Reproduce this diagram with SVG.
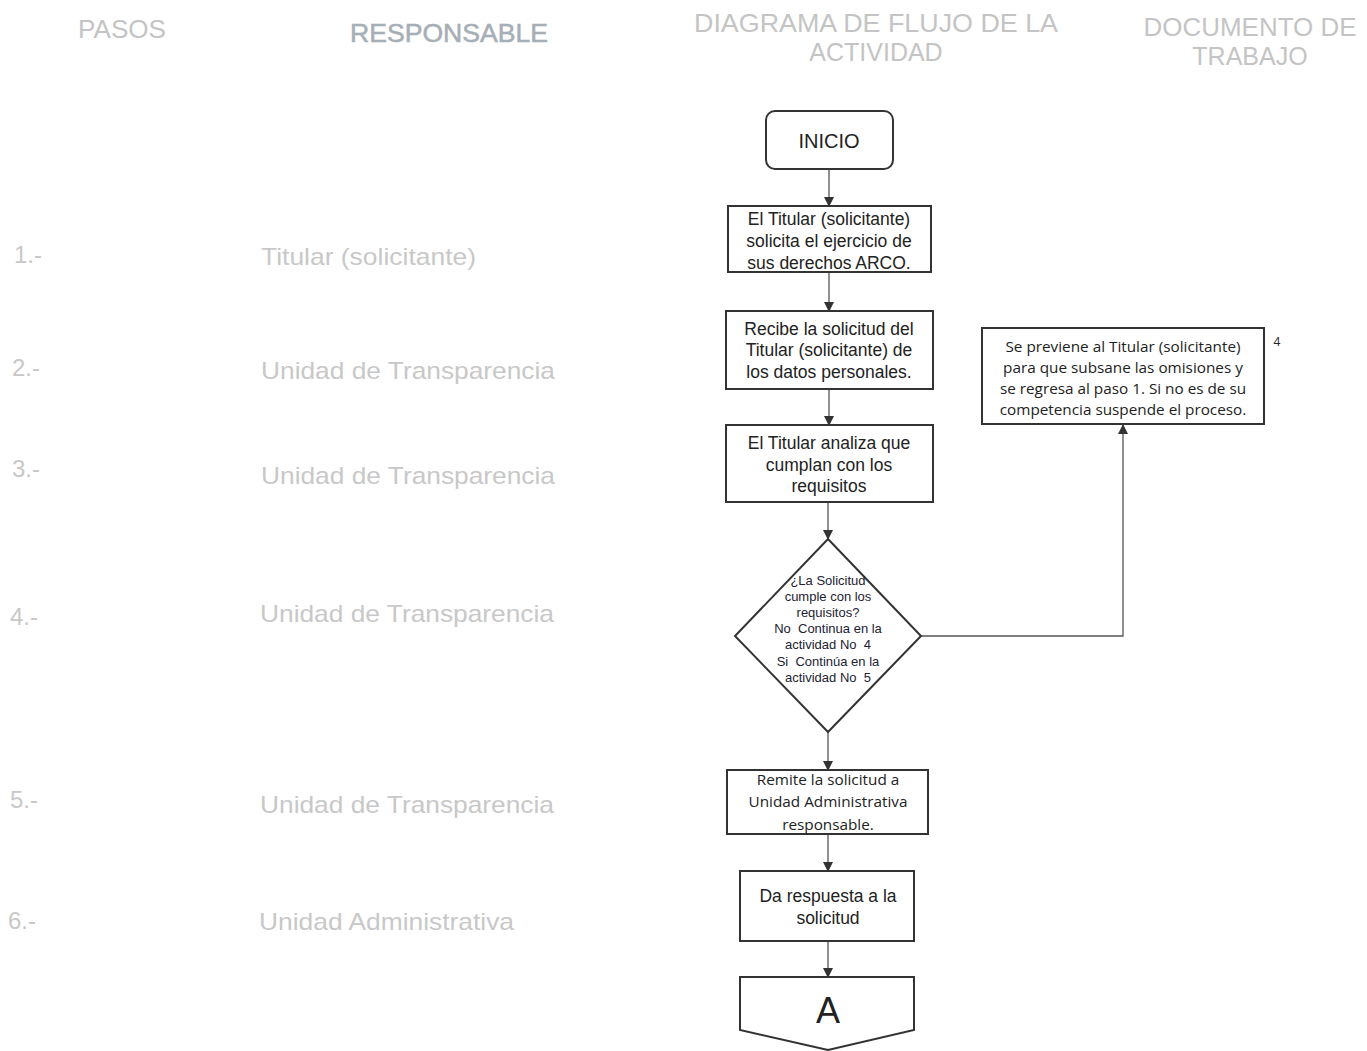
<svg xmlns="http://www.w3.org/2000/svg" width="1367" height="1051" viewBox="0 0 1367 1051">
<defs>
<marker id="arr" markerWidth="10" markerHeight="10" refX="9" refY="5" orient="auto" markerUnits="userSpaceOnUse"><path d="M0,0 L10,5 L0,10 z" fill="#333"/></marker>
<style>
.hd{font-family:"Liberation Sans",Arial,sans-serif;font-size:25px;fill:#c4c4c4;text-anchor:middle}
.lt{font-family:"Liberation Sans",Arial,sans-serif;font-size:24px;fill:#c8c8c8}
.box{fill:#fff;stroke:#333;stroke-width:2}
.tx{font-family:"Liberation Sans",Arial,sans-serif;font-size:17.5px;fill:#222;text-anchor:middle}
.cb{font-family:"Open Sans","Liberation Sans",sans-serif;font-size:15.3px;fill:#222;text-anchor:middle}
.dm{font-family:"Liberation Sans",Arial,sans-serif;font-size:13px;fill:#223;text-anchor:middle;white-space:pre}
.ln{fill:none;stroke:#555;stroke-width:1.3}
</style>
</defs>
<rect width="1367" height="1051" fill="#fff"/>
<g id="headers">
<text class="hd" x="122" y="38" textLength="88" lengthAdjust="spacingAndGlyphs">PASOS</text>
<text class="hd" x="449" y="42" style="fill:#a6aeb6;stroke:#a6aeb6;stroke-width:0.5" textLength="198" lengthAdjust="spacingAndGlyphs">RESPONSABLE</text>
<text class="hd" x="876" y="32" textLength="364" lengthAdjust="spacingAndGlyphs">DIAGRAMA DE FLUJO DE LA</text>
<text class="hd" x="876" y="61">ACTIVIDAD</text>
<text class="hd" x="1250" y="36" textLength="213" lengthAdjust="spacingAndGlyphs">DOCUMENTO DE</text>
<text class="hd" x="1250" y="65">TRABAJO</text>
</g>
<g id="steps">
<text class="lt" x="14" y="263">1.-</text>
<text class="lt" x="261" y="265" textLength="215" lengthAdjust="spacingAndGlyphs">Titular (solicitante)</text>
<text class="lt" x="12" y="376">2.-</text>
<text class="lt" x="261" y="379" textLength="294" lengthAdjust="spacingAndGlyphs">Unidad de Transparencia</text>
<text class="lt" x="12" y="477">3.-</text>
<text class="lt" x="261" y="484" textLength="294" lengthAdjust="spacingAndGlyphs">Unidad de Transparencia</text>
<text class="lt" x="10" y="625">4.-</text>
<text class="lt" x="260" y="622" textLength="294" lengthAdjust="spacingAndGlyphs">Unidad de Transparencia</text>
<text class="lt" x="10" y="808">5.-</text>
<text class="lt" x="260" y="813" textLength="294" lengthAdjust="spacingAndGlyphs">Unidad de Transparencia</text>
<text class="lt" x="8" y="929">6.-</text>
<text class="lt" x="259" y="930" textLength="255" lengthAdjust="spacingAndGlyphs">Unidad Administrativa</text>
</g>
<g id="connectors">
<line class="ln" x1="829" y1="169" x2="829" y2="206" marker-end="url(#arr)"/>
<line class="ln" x1="829" y1="272" x2="829" y2="311" marker-end="url(#arr)"/>
<line class="ln" x1="829" y1="389" x2="829" y2="425" marker-end="url(#arr)"/>
<line class="ln" x1="828" y1="502" x2="828" y2="539" marker-end="url(#arr)"/>
<polyline class="ln" points="921,636 1123,636 1123,425" marker-end="url(#arr)"/>
<line class="ln" x1="828" y1="732" x2="828" y2="770" marker-end="url(#arr)"/>
<line class="ln" x1="828" y1="834" x2="828" y2="871" marker-end="url(#arr)"/>
<line class="ln" x1="828" y1="941" x2="828" y2="977" marker-end="url(#arr)"/>
</g>
<g id="inicio">
<rect class="box" x="766" y="111" width="127" height="58" rx="9"/>
<text class="tx" x="829" y="148" style="font-size:20px">INICIO</text>
</g>
<g id="paso1">
<rect class="box" x="728" y="206" width="203" height="66"/>
<text class="tx" x="829" y="225">El Titular (solicitante)</text>
<text class="tx" x="829" y="247">solicita el ejercicio de</text>
<text class="tx" x="829" y="269">sus derechos ARCO.</text>
</g>
<g id="paso2">
<rect class="box" x="726" y="311" width="207" height="78"/>
<text class="tx" x="829" y="335">Recibe la solicitud del</text>
<text class="tx" x="829" y="356">Titular (solicitante) de</text>
<text class="tx" x="829" y="378">los datos personales.</text>
</g>
<g id="paso3">
<rect class="box" x="726" y="425" width="207" height="77"/>
<text class="tx" x="829" y="449">El Titular analiza que</text>
<text class="tx" x="829" y="471">cumplan con los</text>
<text class="tx" x="829" y="492">requisitos</text>
</g>
<g id="decision">
<polygon class="box" points="828,539 921,636 828,732 735,636"/>
<text class="dm" x="828" y="585">¿La Solicitud</text>
<text class="dm" x="828" y="601">cumple con los</text>
<text class="dm" x="828" y="617">requisitos?</text>
<text class="dm" x="828" y="633">No  Continua en la</text>
<text class="dm" x="828" y="649">actividad No  4</text>
<text class="dm" x="828" y="666">Si  Continúa en la</text>
<text class="dm" x="828" y="682">actividad No  5</text>
</g>
<g id="paso4">
<rect class="box" x="982" y="328" width="282" height="96"/>
<text class="cb" x="1123" y="352">Se previene al Titular (solicitante)</text>
<text class="cb" x="1123" y="373">para que subsane las omisiones y</text>
<text class="cb" x="1123" y="394">se regresa al paso 1. Si no es de su</text>
<text class="cb" x="1123" y="415">competencia suspende el proceso.</text>
<text class="cb" x="1277" y="346" style="font-size:12px">4</text>
</g>
<g id="paso5">
<rect class="box" x="727" y="770" width="201" height="64"/>
<text class="cb" x="828" y="785">Remite la solicitud a</text>
<text class="cb" x="828" y="807">Unidad Administrativa</text>
<text class="cb" x="828" y="830">responsable.</text>
</g>
<g id="paso6">
<rect class="box" x="740" y="871" width="174" height="70"/>
<text class="tx" x="828" y="902">Da respuesta a la</text>
<text class="tx" x="828" y="924">solicitud</text>
</g>
<g id="conector-a">
<polygon class="box" points="740,977 914,977 914,1030 828,1050 740,1030"/>
<text class="tx" x="828" y="1023" style="font-size:36px">A</text>
</g>
</svg>
